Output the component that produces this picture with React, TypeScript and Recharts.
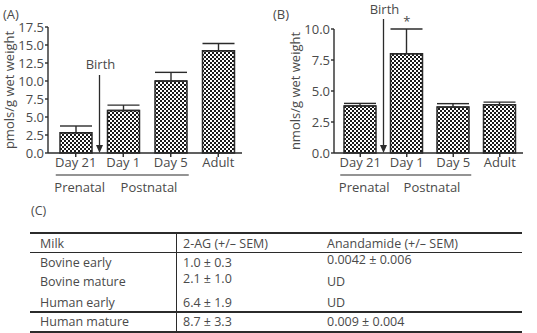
import React from "react"
import { BarChart, Bar, XAxis, YAxis, ErrorBar, ReferenceDot } from "recharts"

const categories = ["Day 21", "Day 1", "Day 5", "Adult"]
const meanA = [2.8, 5.9, 10.0, 14.2]
const semA = [0.95, 0.75, 1.2, 1.0]
const meanB = [3.8, 8.0, 3.7, 3.9]
const semB = [0.2, 2.0, 0.28, 0.2]
const ticksA = [0, 2.5, 5, 7.5, 10, 12.5, 15, 17.5]
const ticksB = [0, 2.5, 5, 7.5, 10]

const milkTypes = ["Bovine early", "Bovine mature", "Human early", "Human mature"]
const twoAG = ["1.0 ± 0.3", "2.1 ± 1.0", "6.4 ± 1.9", "8.7 ± 3.3"]
const anandamide = ["0.0042 ± 0.006", "UD", "UD", "0.009 ± 0.004"]

const FONT = "'Open Sans', 'Noto Sans', sans-serif"
const TEXT = "#4a4a4a"
const INK = "#2b2b2b"

function buildRows(mean: number[], sem: number[]) {
  return categories.map((c, i) => ({ name: c, value: mean[i], err: [0, sem[i]] }))
}

type PanelProps = {
  id: string
  left: number
  width: number
  marginLeft: number
  marginRight: number
  marginTop: number
  padLeft: number
  mean: number[]
  sem: number[]
  ticks: number[]
  yLabel: string
  tag: string
  birthTop: number
  birthTextY: number
  star?: number
}

function Panel(p: PanelProps) {
  const rows = buildRows(p.mean, p.sem)
  const height = 200
  const plotLeft = p.marginLeft + 40
  const plotRight = p.width - p.marginRight
  const band = (plotRight - plotLeft - p.padLeft) / categories.length
  const center = (i: number) => plotLeft + p.padLeft + band * (i + 0.5)
  const birthX = plotLeft + p.padLeft + band
  const baseY = 153
  const tickStyle = { fontSize: 13, fill: TEXT, fontFamily: FONT }
  return (
    <div style={{ position: "absolute", left: p.left, top: 0, width: p.width, height }}>
      <BarChart
        width={p.width}
        height={height}
        data={rows}
        margin={{ top: p.marginTop, right: p.marginRight, bottom: 27, left: p.marginLeft }}
        barSize={32}
      >
        <defs>
          <pattern id={p.id} width="4" height="4" patternUnits="userSpaceOnUse">
            <rect width="4" height="4" fill="#fff" />
            <rect width="2" height="2" fill="#1a1a1a" />
            <rect x="2" y="2" width="2" height="2" fill="#1a1a1a" />
          </pattern>
        </defs>
        <XAxis
          dataKey="name"
          height={20}
          padding={{ left: p.padLeft, right: 0 }}
          tick={tickStyle}
          tickSize={4}
          tickMargin={1}
          stroke={INK}
          strokeWidth={1.4}
          interval={0}
        />
        <YAxis
          width={40}
          domain={[0, p.ticks[p.ticks.length - 1]]}
          ticks={p.ticks}
          interval={0}
          tickFormatter={(v: number) => v.toFixed(1)}
          tick={tickStyle}
          tickSize={3}
          tickMargin={1}
          stroke={INK}
          strokeWidth={1.4}
          label={{
            value: p.yLabel,
            angle: -90,
            position: "insideLeft",
            offset: 1,
            style: { textAnchor: "middle", fontSize: 13, fill: TEXT, fontFamily: FONT },
          }}
        />
        <Bar dataKey="value" fill={`url(#${p.id})`} stroke={INK} strokeWidth={1.5} isAnimationActive={false}>
          <ErrorBar dataKey="err" width={16} stroke={INK} strokeWidth={1.4} direction="y" />
        </Bar>
        {p.star !== undefined && (
          <ReferenceDot
            x={categories[p.star]}
            y={p.mean[p.star] + p.sem[p.star]}
            r={0}
            label={{ value: "*", position: "top", offset: 3, fontSize: 13, fill: TEXT, fontFamily: FONT }}
          />
        )}
      </BarChart>
      <svg width={p.width} height={height} style={{ position: "absolute", left: 0, top: 0, pointerEvents: "none" }}>
        <line x1={birthX} y1={p.birthTop} x2={birthX} y2={baseY - 6} stroke={INK} strokeWidth={1.3} />
        <polygon points={`${birthX - 3.5},${baseY - 8} ${birthX + 3.5},${baseY - 8} ${birthX},${baseY}`} fill={INK} />
        <text x={birthX + 1} y={p.birthTextY} textAnchor="middle" fontSize={13} fill={TEXT} fontFamily={FONT}>
          Birth
        </text>
        <line x1={center(0) - 20} y1={175} x2={center(2) + 18} y2={175} stroke={INK} strokeWidth={1.2} />
        <text x={center(0) + 4} y={192} textAnchor="middle" fontSize={13} fill={TEXT} fontFamily={FONT}>
          Prenatal
        </text>
        <text x={(center(1) + center(2)) / 2 + 2} y={192} textAnchor="middle" fontSize={13} fill={TEXT} fontFamily={FONT}>
          Postnatal
        </text>
        <text x={3} y={19} fontSize={13} fill={TEXT} fontFamily={FONT}>
          {p.tag}
        </text>
      </svg>
    </div>
  )
}

function MilkTable() {
  const cell = (x: number, y: number, s: string) => (
    <div style={{ position: "absolute", left: x, top: y, fontSize: 12.5, lineHeight: "16px", color: TEXT, fontFamily: FONT, whiteSpace: "nowrap" }}>
      {s}
    </div>
  )
  const rowY = [255, 274, 295, 314]
  return (
    <div style={{ position: "absolute", left: 0, top: 0, width: 537, height: 333 }}>
      {cell(31, 203, "(C)")}
      <div style={{ position: "absolute", left: 30, top: 232, width: 492, height: 2, background: INK }} />
      <div style={{ position: "absolute", left: 30, top: 252, width: 492, height: 1, background: INK }} />
      <div style={{ position: "absolute", left: 30, top: 311, width: 492, height: 1.5, background: INK }} />
      <div style={{ position: "absolute", left: 30, top: 331, width: 492, height: 2, background: INK }} />
      <div style={{ position: "absolute", left: 176, top: 233, width: 1, height: 99, background: INK }} />
      {cell(40, 236, "Milk")}
      {cell(183, 236, "2-AG (+/– SEM)")}
      {cell(327, 236, "Anandamide (+/– SEM)")}
      {milkTypes.map((m, i) => (
        <React.Fragment key={m}>
          {cell(40, rowY[i], m)}
          {cell(183, rowY[i] - (i === 1 ? 3 : 0), twoAG[i])}
          {cell(327, rowY[i] - (i === 0 ? 3 : 0), anandamide[i])}
        </React.Fragment>
      ))}
    </div>
  )
}

export default function App() {
  return (
    <div style={{ position: "absolute", left: 0, top: 0, width: 537, height: 333, background: "#fff", overflow: "hidden" }}>
      <Panel
        id="checkA"
        left={0}
        width={260}
        marginLeft={8}
        marginRight={18}
        marginTop={27}
        padLeft={4}
        mean={meanA}
        sem={semA}
        ticks={ticksA}
        yLabel="pmols/g wet weight"
        tag="(A)"
        birthTop={75}
        birthTextY={69}
      />
      <Panel
        id="checkB"
        left={270}
        width={267}
        marginLeft={24}
        marginRight={14}
        marginTop={29}
        padLeft={3}
        mean={meanB}
        sem={semB}
        ticks={ticksB}
        yLabel="nmols/g wet weight"
        tag="(B)"
        birthTop={19}
        birthTextY={14}
        star={1}
      />
      <MilkTable />
    </div>
  )
}
